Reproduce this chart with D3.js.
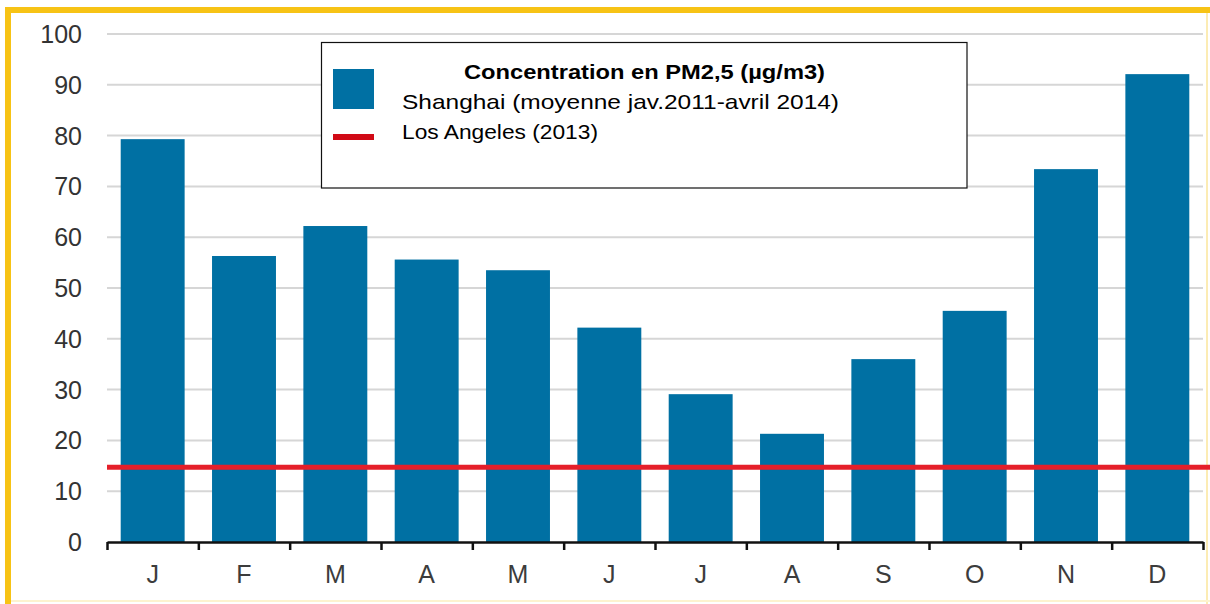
<!DOCTYPE html>
<html>
<head>
<meta charset="utf-8">
<script src="https://cdn.jsdelivr.net/npm/d3@7"></script>
<style>
  body { margin: 0; background: #fff; }
  svg { display: block; }
  .ytick { font-family: "Liberation Sans", Arial, sans-serif; font-size: 25px; fill: #333; }
  .xtick { font-family: "Liberation Sans", Arial, sans-serif; font-size: 25px; fill: #3c3c3c; }
  .leg { font-family: "Liberation Sans Narrow", "Arial Narrow", "Liberation Sans", sans-serif; font-size: 21px; fill: #000; }
</style>
</head>
<body>
<div id="chart"></div>
<script>
// monthly PM2.5 averages, Shanghai (jan 2011 - apr 2014)
var months = ["J", "F", "M", "A", "M", "J", "J", "A", "S", "O", "N", "D"];
var shanghai = [79.3, 56.3, 62.2, 55.6, 53.5, 42.2, 29.1, 21.3, 36.0, 45.5, 73.4, 92.1];
var losAngeles = 14.7;
var yTicks = [0, 10, 20, 30, 40, 50, 60, 70, 80, 90, 100];
var legendTitle = "Concentration en PM2,5 (µg/m3)";
var legendNames = ["Shanghai (moyenne jav.2011-avril 2014)", "Los Angeles (2013)"];

var width = 1210, height = 604;
var plotLeft = 107, plotRight = 1203, plotTop = 34, plotBottom = 542;

var svg = d3.select("#chart").append("svg")
  .attr("width", width)
  .attr("height", height);

// yellow frame
svg.append("line").attr("x1", 5).attr("x2", width).attr("y1", 10).attr("y2", 10)
  .attr("stroke", "#f7c315").attr("stroke-width", 6);
svg.append("line").attr("x1", 8).attr("x2", 8).attr("y1", 7).attr("y2", height)
  .attr("stroke", "#f7c315").attr("stroke-width", 6);
svg.append("line").attr("x1", 1207).attr("x2", 1207).attr("y1", 13).attr("y2", height)
  .attr("stroke", "#fcecb4").attr("stroke-width", 2);
svg.append("line").attr("x1", 11).attr("x2", width).attr("y1", 601).attr("y2", 601)
  .attr("stroke", "#fdf3cf").attr("stroke-width", 2);

var x = d3.scaleBand()
  .domain(d3.range(months.length))
  .range([plotLeft, plotRight])
  .paddingInner(0.3)
  .paddingOuter(0.15);

var y = d3.scaleLinear().domain([0, 100]).range([plotBottom, plotTop]);

// gridlines
svg.append("g").selectAll("line")
  .data(yTicks.slice(1))
  .enter().append("line")
  .attr("x1", plotLeft).attr("x2", plotRight)
  .attr("y1", function(d) { return y(d); })
  .attr("y2", function(d) { return y(d); })
  .attr("stroke", "#d6d6d6")
  .attr("stroke-width", 2);

// y labels
svg.append("g").selectAll("text")
  .data(yTicks)
  .enter().append("text")
  .attr("class", "ytick")
  .attr("x", 82)
  .attr("y", function(d) { return y(d); })
  .attr("dy", "0.36em")
  .attr("text-anchor", "end")
  .text(function(d) { return d; });

// bars
svg.append("g").selectAll("rect")
  .data(shanghai)
  .enter().append("rect")
  .attr("x", function(d, i) { return x(i); })
  .attr("width", x.bandwidth())
  .attr("y", function(d) { return y(d); })
  .attr("height", function(d) { return y(0) - y(d); })
  .attr("fill", "#0070a3");

// Los Angeles reference line
svg.append("line")
  .attr("x1", plotLeft).attr("x2", width)
  .attr("y1", y(losAngeles)).attr("y2", y(losAngeles))
  .attr("stroke", "#e51f2a")
  .attr("stroke-width", 5);

// x axis, ticks between categories
var xb = d3.scaleLinear().domain([0, months.length]).range([plotLeft, plotRight]);
var xAxis = svg.append("g")
  .attr("transform", "translate(0," + plotBottom + ")")
  .call(d3.axisBottom(xb).tickValues(d3.range(months.length + 1)).tickFormat("").tickSize(8).tickSizeOuter(0));
xAxis.select(".domain").attr("stroke", "#111").attr("stroke-width", 2.5);
xAxis.selectAll(".tick line").attr("stroke", "#111").attr("stroke-width", 2.5);

svg.append("g").selectAll("text")
  .data(months)
  .enter().append("text")
  .attr("class", "xtick")
  .attr("x", function(d, i) { return x(i) + x.bandwidth() / 2; })
  .attr("y", 574)
  .attr("dy", "0.36em")
  .attr("text-anchor", "middle")
  .text(function(d) { return d; });

// legend
var leg = svg.append("g");
leg.append("rect")
  .attr("x", 321.5).attr("y", 42.5)
  .attr("width", 645.5).attr("height", 145.5)
  .attr("fill", "#fff")
  .attr("stroke", "#111")
  .attr("stroke-width", 1.2);
leg.append("rect")
  .attr("x", 333).attr("y", 69)
  .attr("width", 41).attr("height", 40)
  .attr("fill", "#0070a3");
leg.append("line")
  .attr("x1", 333).attr("x2", 374)
  .attr("y1", 137).attr("y2", 137)
  .attr("stroke", "#d10a16")
  .attr("stroke-width", 6);
leg.append("text")
  .attr("class", "leg")
  .attr("x", 464).attr("y", 78.5)
  .attr("font-weight", "bold")
  .attr("textLength", 361)
  .attr("lengthAdjust", "spacingAndGlyphs")
  .text(legendTitle);
leg.append("text")
  .attr("class", "leg")
  .attr("x", 402).attr("y", 108.5)
  .attr("textLength", 437)
  .attr("lengthAdjust", "spacingAndGlyphs")
  .text(legendNames[0]);
leg.append("text")
  .attr("class", "leg")
  .attr("x", 402).attr("y", 139)
  .attr("textLength", 196)
  .attr("lengthAdjust", "spacingAndGlyphs")
  .text(legendNames[1]);
</script>
</body>
</html>
